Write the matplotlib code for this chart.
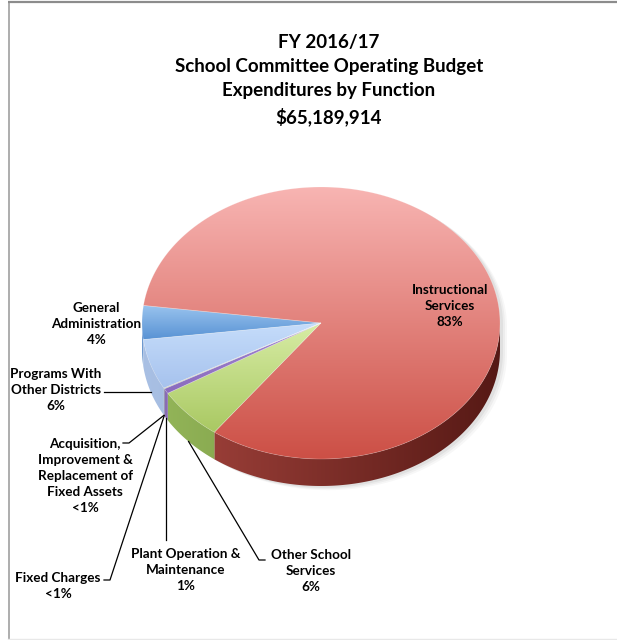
import numpy as np
import matplotlib
matplotlib.use("Agg")
import matplotlib.pyplot as plt
from matplotlib.patches import Polygon
from matplotlib.colors import to_rgb

# ---- data -------------------------------------------------------------
functions = [
    "General\nAdministration",
    "Instructional\nServices",
    "Other School\nServices",
    "Plant Operation &\nMaintenance",
    "Fixed Charges",
    "Acquisition,\nImprovement &\nReplacement of\nFixed Assets",
    "Programs With\nOther Districts",
]
shares = [4.0, 83.1, 6.2, 0.6, 0.05, 0.05, 6.0]   # percent of total budget
title_lines = ["FY 2016/17", "School Committee Operating Budget",
               "Expenditures by Function", "\\$65,189,914"]

# ---- styling ----------------------------------------------------------
top_colors = [  # (upper, lower) gradient of each slice's top face
    ("#9cc5ef", "#5590d3"),
    ("#f8b5b3", "#cc4f45"),
    ("#d8eda6", "#a9c862"),
    ("#a386d2", "#8a6bbd"),
    ("#5cb8d0", "#3f9db8"),
    ("#f9a260", "#e8863a"),
    ("#c6ddfb", "#a6c2ed"),
]
side_colors = [  # (lit, shaded) colour of each slice's rim
    ("#6f9ad0", "#4a74aa"),
    ("#a8463f", "#561915"),
    ("#96b85b", "#5c7a2c"),
    ("#8c6db8", "#6a4f96"),
    ("#4aa6c0", "#2f7f96"),
    ("#e88a3e", "#b8642a"),
    ("#a9c0e4", "#7c97c2"),
]
FONT = ["Lato", "DejaVu Sans"]

W, H = 617, 640
fig = plt.figure(figsize=(W / 100, H / 100), dpi=100)
fig.patch.set_facecolor("white")
ax = fig.add_axes([0, 0, 1, 1])
ax.set_xlim(0, W)
ax.set_ylim(H, 0)
ax.set_autoscale_on(False)
ax.axis("off")

# chart frame
ax.plot([8.5, 8.5], [1, H], color="#a0a0a0", lw=1.2, solid_capstyle="butt")
ax.plot([8, W], [1.5, 1.5], color="#8c8c8c", lw=1.6, solid_capstyle="butt")
ax.plot([8, W], [638.5, 638.5], color="#e8e8e8", lw=1.0)

# ---- pie geometry -----------------------------------------------------
cx, cy = 321.0, 323.0
rx, ry = 179.0, 136.0
depth = 27.0
start_angle = 187.0          # slices run clockwise from here


def pt(t_deg, dz=0.0):
    t = np.radians(t_deg)
    return cx + rx * np.cos(t), cy - ry * np.sin(t) + dz


def gradient_fill(verts, c_a, c_b, horizontal, zorder, x_range=None):
    """Fill a polygon with a linear two-colour gradient via a clipped image."""
    verts = np.asarray(verts)
    poly = Polygon(verts, closed=True, facecolor="none", edgecolor="none", zorder=zorder)
    ax.add_patch(poly)
    x0, x1 = verts[:, 0].min() - 1, verts[:, 0].max() + 1
    y0, y1 = verts[:, 1].min() - 1, verts[:, 1].max() + 1
    a, b = np.array(to_rgb(c_a)), np.array(to_rgb(c_b))
    if horizontal:
        xs = np.linspace(x0, x1, 256)
        lo, hi = x_range
        u = np.clip((xs - lo) / (hi - lo), 0, 1)
        img = (a + (b - a) * u[:, None])[None, :, :].repeat(2, axis=0)
    else:
        u = np.linspace(0, 1, 256)
        img = (a + (b - a) * u[:, None])[:, None, :].repeat(2, axis=1)
    im = ax.imshow(img, extent=(x0, x1, y1, y0), origin="upper", aspect="auto",
                   interpolation="bilinear", zorder=zorder)
    im.set_clip_path(poly)
    return poly


vals = np.array(shares)
cum = np.concatenate([[0], np.cumsum(vals)]) / vals.sum() * 360.0
spans = [(start_angle - cum[i + 1], start_angle - cum[i]) for i in range(len(vals))]

# soft shadow on the right
for k, a in enumerate([0.05, 0.04, 0.03]):
    off = 3 + 2 * k
    upper = [pt(t) for t in np.linspace(0, 180, 120)]
    lower = [pt(t, depth) for t in np.linspace(180, 360, 120)]
    sh = np.array(upper + lower) + np.array([off, off * 0.6])
    ax.add_patch(Polygon(sh, closed=True, facecolor="black", edgecolor="none",
                         alpha=a, zorder=1))

# rim (front half only); shading follows the rim's facing, i.e. its x position
for i, (lo, hi) in enumerate(spans):
    for k in range(-2, 3):
        a0, a1 = max(lo, 180 + 360 * k), min(hi, 360 + 360 * k)
        if a1 <= a0:
            continue
        tt = np.linspace(a0, a1, max(3, int((a1 - a0) / 0.5) + 2))
        top = [pt(t) for t in tt]
        bot = [pt(t, depth) for t in tt[::-1]]
        gradient_fill(top + bot, side_colors[i][0], side_colors[i][1],
                      horizontal=True, zorder=2, x_range=(cx - rx, cx + rx))

# top faces with vertical gradients
for i, (lo, hi) in enumerate(spans):
    n = max(3, int((hi - lo) / 0.5) + 2)
    arc = [pt(t) for t in np.linspace(lo, hi, n)]
    verts = [(cx, cy)] + arc
    gradient_fill(verts, top_colors[i][0], top_colors[i][1], horizontal=False, zorder=3)
    ax.add_patch(Polygon(verts, closed=True, facecolor="none",
                         edgecolor=(1, 1, 1, 0.25), lw=0.5, zorder=4))

ax.set_xlim(0, W)
ax.set_ylim(H, 0)

# ---- text -------------------------------------------------------------
ax.text(329, 80, "\n".join(title_lines), ha="center", va="center",
        fontsize=13.5, fontweight="bold", family=FONT, linespacing=1.5, zorder=6)


def pct(v):
    return "<1%" if v < 0.5 else f"{round(v):.0f}%"


def anchor(i):
    lo, hi = spans[i]
    return pt(0.5 * (lo + hi), depth)


label_pos = [(96, 324), (450, 306), (311, 571), (186, 570), (58, 586), (85, 476), (56, 390)]
for i, (lx, ly) in enumerate(label_pos):
    ax.text(lx, ly, f"{functions[i]}\n{pct(shares[i])}", ha="center", va="center",
            fontsize=9.7, fontweight="bold", family=FONT, linespacing=1.42, zorder=6)

# leader lines
lc = dict(color="black", lw=0.9, zorder=5)
ax_, ay_ = anchor(6)
ax.plot([104, ax_], [ay_, ay_], **lc)
ax_, ay_ = anchor(5)
ax.plot([123, 129, ax_], [443, 443, ay_], **lc)
ax_, ay_ = anchor(4)
ax.plot([104, 110, ax_], [580, 580, ay_], **lc)
ax_, ay_ = anchor(3)
ax.plot([ax_, ax_], [540, ay_], **lc)
ax_, ay_ = anchor(2)
ax.plot([265, 259, ax_], [560, 560, ay_], **lc)

fig.savefig("out.png", dpi=100, facecolor="white")
